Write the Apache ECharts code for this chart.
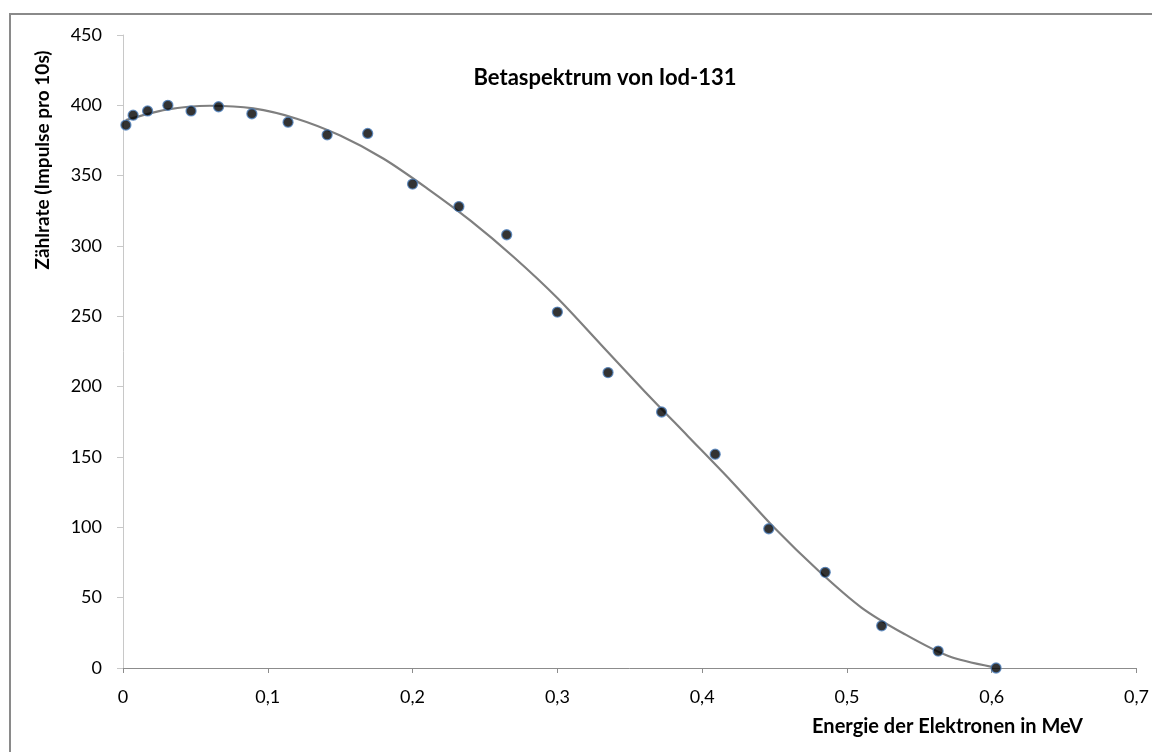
<!DOCTYPE html>
<html>
<head>
<meta charset="utf-8">
<script src="https://cdn.jsdelivr.net/npm/echarts@6/dist/echarts.min.js"></script>
<style>
  html, body { margin: 0; padding: 0; background: #fff; }
  #chart { width: 1152px; height: 752px; }
</style>
</head>
<body>
<div id="chart"></div>
<script>
// Messpunkte: Energie (MeV) und Zählrate
const energy = [0.002, 0.007, 0.017, 0.031, 0.047, 0.066, 0.089, 0.114, 0.141, 0.169,
  0.200, 0.232, 0.265, 0.300, 0.335, 0.372, 0.409, 0.446, 0.485, 0.524, 0.563, 0.603];
const counts = [386, 393, 396, 400, 396, 399, 394, 388, 379, 380,
  344, 328, 308, 253, 210, 182, 152, 99, 68, 30, 12, 0];

// Trendlinie
const fitX = [0.002, 0.03, 0.06, 0.09, 0.12, 0.15, 0.18, 0.21, 0.24, 0.27,
  0.30, 0.33, 0.36, 0.39, 0.42, 0.45, 0.48, 0.51, 0.54, 0.57, 0.60];
const fitY = [389.5, 397, 399.7, 397.8, 390.5, 378.5, 362, 341, 318, 292,
  263, 230, 197, 165, 133, 99.5, 69.5, 43, 24, 8.5, 0.8];

const title = 'Betaspektrum von Iod-131';
const xName = 'Energie der Elektronen in MeV';
const yName = 'Zählrate (Impulse pro 10s)';

const font = 'Lato, "Open Sans", sans-serif';

const chart = echarts.init(document.getElementById('chart'));
chart.setOption({
  animation: false,
  backgroundColor: '#fff',
  title: {
    text: title,
    left: 600, top: 62, textAlign: 'center',
    textStyle: { fontFamily: font, fontSize: 22, fontWeight: 'bold', color: '#000' }
  },
  grid: { left: 123, right: 11, top: 35, bottom: 84, containLabel: false },
  xAxis: {
    type: 'value', min: 0, max: 0.7, interval: 0.1,
    axisLine: { lineStyle: { color: '#8c8c8c', width: 1 } },
    axisTick: { show: true, length: 5, lineStyle: { color: '#8c8c8c' } },
    splitLine: { show: false },
    axisLabel: {
      margin: 20, fontFamily: font, fontSize: 18, color: '#000',
      formatter: v => String(Math.round(v * 10) / 10).replace('.', ',')
    }
  },
  yAxis: {
    type: 'value', min: 0, max: 450, interval: 50,
    axisLine: { show: true, lineStyle: { color: '#c8c8c8', width: 1 } },
    axisTick: { show: true, length: 6, lineStyle: { color: '#c8c8c8' } },
    splitLine: { show: false },
    axisLabel: { margin: 21, fontFamily: font, fontSize: 18, color: '#000' }
  },
  graphic: [
    {
      type: 'rect', shape: { x: 10, y: 14, width: 1200, height: 800 },
      style: { fill: 'none', stroke: '#8a8a8a', lineWidth: 2 }, silent: true
    },
    {
      type: 'text', x: 43, y: 160, rotation: Math.PI / 2,
      style: { text: yName, fontFamily: font, fontSize: 19, fontWeight: 'bold',
        fill: '#000', align: 'center', verticalAlign: 'middle' }
    },
    {
      type: 'text', x: 1083, y: 727,
      style: { text: xName, fontFamily: font, fontSize: 20, fontWeight: 'bold',
        fill: '#000', align: 'right', verticalAlign: 'middle' }
    }
  ],
  series: [
    {
      name: 'Trend',
      type: 'line',
      data: fitX.map((x, i) => [x, fitY[i]]),
      smooth: 0.3,
      showSymbol: false,
      lineStyle: { color: '#7f7f7f', width: 2.2 },
      z: 2
    },
    {
      name: 'Messwerte',
      type: 'scatter',
      data: energy.map((x, i) => [x, counts[i]]),
      symbolSize: 10,
      itemStyle: { color: '#000', borderColor: '#4f81bd', borderWidth: 1.3 },
      z: 3
    }
  ]
});
</script>
</body>
</html>
